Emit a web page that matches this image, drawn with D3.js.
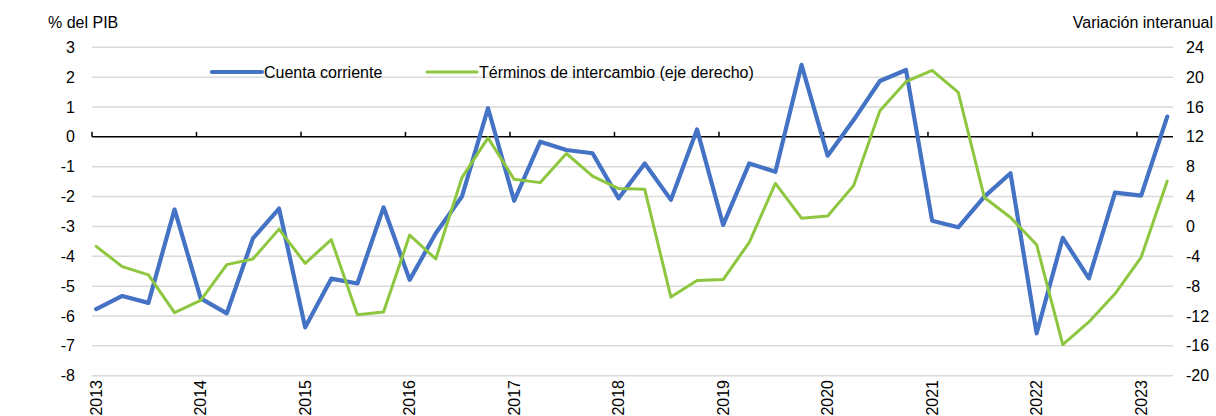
<!DOCTYPE html>
<html>
<head>
<meta charset="utf-8">
<script src="https://cdn.jsdelivr.net/npm/d3@7"></script>
<style>
  body { margin: 0; background: #fff; }
  svg text { font-family: "Liberation Sans", Arial, sans-serif; font-size: 16px; fill: #000; }
</style>
</head>
<body>
<div class="bod"></div>
<script>
// data: quarterly, 2013T1 .. 2023T2
const years = [2013, 2014, 2015, 2016, 2017, 2018, 2019, 2020, 2021, 2022, 2023]
const leftTicks = [3, 2, 1, 0, -1, -2, -3, -4, -5, -6, -7, -8]
const rightTicks = [24, 20, 16, 12, 8, 4, 0, -4, -8, -12, -16, -20]
const cuentaCorriente = [
  -5.77, -5.33, -5.56, -2.43, -5.41, -5.91, -3.40, -2.40,
  -6.38, -4.75, -4.91, -2.36, -4.79, -3.23, -2.00, 0.96,
  -2.14, -0.16, -0.44, -0.55, -2.06, -0.89, -2.11, 0.25,
  -2.95, -0.89, -1.17, 2.41, -0.63, 0.57, 1.87, 2.24,
  -2.81, -3.03, -2.00, -1.22, -6.58, -3.38, -4.74, -1.87,
  -1.97, 0.68
]
const terminos = [
  -2.67, -5.39, -6.49, -11.56, -9.92, -5.12, -4.36, -0.36,
  -4.94, -1.78, -11.83, -11.47, -1.16, -4.36, 6.53, 11.87,
  6.31, 5.87, 9.77, 6.75, 5.07, 4.97, -9.47, -7.25,
  -7.12, -2.13, 5.77, 1.11, 1.41, 5.5, 15.5, 19.4,
  20.9, 17.95, 3.87, 1.2, -2.45, -15.83, -12.8, -9.03,
  -4.14, 6.08
]
const series = [
  {name: 'Cuenta corriente', values: cuentaCorriente, axis: 'left', color: '#4472C4', width: 4.2},
  {name: 'Términos de intercambio (eje derecho)', values: terminos, axis: 'right', color: '#8DC63F', width: 3}
]

const size = {width: 1216, height: 416}
const plot = {left: 92, right: 1173, top: 47.3, bottom: 375.7}

const svg = d3.select('.bod')
  .append('svg')
  .attr('width', size.width)
  .attr('height', size.height)

// quarter i -> decimal date (points sit slightly after the quarter start)
const dateOf = i => years[0] + i / 4 + 0.04
const x = d3.scaleLinear()
  .domain([years[0], 2023.345])
  .range([plot.left, plot.right])
const yL = d3.scaleLinear().domain([-8, 3]).range([plot.bottom, plot.top])
const yR = d3.scaleLinear().domain([-20, 24]).range([plot.bottom, plot.top])

//gridlines
svg.append('g')
  .selectAll('line')
  .data(leftTicks.filter(d => d !== 0))
  .enter()
  .append('line')
  .attr('x1', plot.left).attr('x2', plot.right)
  .attr('y1', d => yL(d)).attr('y2', d => yL(d))
  .attr('stroke', '#d9d9d9')
  .attr('stroke-width', 1.5)

//left labels
svg.append('g')
  .selectAll('text')
  .data(leftTicks)
  .enter()
  .append('text')
  .attr('x', 75)
  .attr('y', d => yL(d))
  .attr('dy', '0.35em')
  .attr('text-anchor', 'end')
  .text(d => d)

//right labels
svg.append('g')
  .selectAll('text')
  .data(rightTicks)
  .enter()
  .append('text')
  .attr('x', 1186)
  .attr('y', d => yR(d))
  .attr('dy', '0.35em')
  .text(d => d)

//titles
svg.append('text').attr('x', 48).attr('y', 28).text('% del PIB')
svg.append('text').attr('x', 1213).attr('y', 28).attr('text-anchor', 'end').text('Variación interanual')

//zero axis with year ticks
const axis = svg.append('g')
axis.append('line')
  .attr('x1', plot.left).attr('x2', plot.right)
  .attr('y1', yL(0)).attr('y2', yL(0))
  .attr('stroke', '#000')
  .attr('stroke-width', 1.5)
axis.selectAll('.tk')
  .data(years)
  .enter()
  .append('line')
  .attr('x1', d => x(d)).attr('x2', d => x(d))
  .attr('y1', yL(0)).attr('y2', yL(0) - 5)
  .attr('stroke', '#000')
  .attr('stroke-width', 1.5)

//year labels (rotated)
svg.append('g')
  .selectAll('text')
  .data(years)
  .enter()
  .append('text')
  .attr('transform', d => `translate(${x(d) + 4},380) rotate(-90)`)
  .attr('dy', '0.35em')
  .attr('text-anchor', 'end')
  .text(d => d)

//lines
const line = s => d3.line()
  .x((d, i) => x(dateOf(i)))
  .y(d => s.axis == 'left' ? yL(d) : yR(d))
svg.append('g')
  .selectAll('path')
  .data(series)
  .enter()
  .append('path')
  .attr('d', s => line(s)(s.values))
  .attr('fill', 'none')
  .attr('stroke', s => s.color)
  .attr('stroke-width', s => s.width)
  .attr('stroke-linejoin', 'round')
  .attr('stroke-linecap', 'round')

//legend
const legX = [212, 427]
const leg = svg.append('g')
  .selectAll('g')
  .data(series)
  .enter()
  .append('g')
  .attr('transform', (d, i) => `translate(${legX[i]},72)`)
leg.append('line')
  .attr('x1', 0).attr('x2', 50)
  .attr('stroke', d => d.color)
  .attr('stroke-width', d => d.width)
  .attr('stroke-linecap', 'round')
leg.append('text')
  .attr('x', 52)
  .attr('dy', '0.35em')
  .text(d => d.name)
</script>
</body>
</html>
